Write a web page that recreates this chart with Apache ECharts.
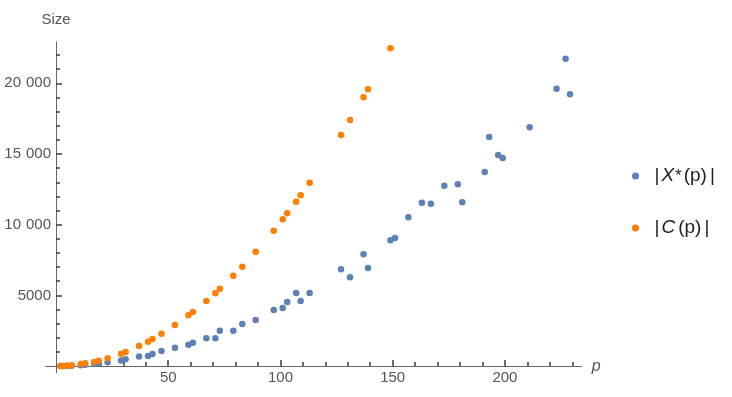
<!DOCTYPE html>
<html><head><meta charset="utf-8">
<script src="https://cdn.jsdelivr.net/npm/echarts@6/dist/echarts.min.js"></script>
<style>html,body{margin:0;padding:0;background:#fff}#c{width:732px;height:397px}</style>
</head><body><div id="c"></div>
<script>
// Primes p (x values)
const primes = [2,3,5,7,11,13,17,19,23,29,31,37,41,43,47,53,59,61,67,71,73,79,83,89,97,101,103,107,109,113,127,131,137,139,149,151,157,163,167,173,179,181,191,193,197,199,211,223,227,229];
// |X*(p)| (blue)
const xStarSizes = [2,5,15,25,50,90,141,191,270,390,485,680,708,849,1061,1295,1507,1649,1960,1960,2498,2498,2970,3250,3960,4100,4530,5165,4600,5165,6842,6276,7903,6934,8894,9057,10521,11555,11484,12757,12856,11583,13727,16203,14930,14717,16890,19620,21744,19224];
// |C(p)| (orange), visible for the first primes only
const cSizes = [4,10,30,55,142,200,283,375,545,870,1000,1420,1719,1910,2285,2901,3587,3821,4599,5144,5470,6389,7026,8088,9573,10380,10804,11625,12078,12970,16345,17406,19012,19578,22480,22975];
// ticks
const xMajorTicks = [50,100,150,200];
const xMinorTicks = [10,20,30,40,60,70,80,90,110,120,130,140,160,170,180,190,210,220,230];
const yMajorTicks = [5000,10000,15000,20000];
const yMinorTicks = [1000,2000,3000,4000,6000,7000,8000,9000,11000,12000,13000,14000,16000,17000,18000,19000,21000,22000];

const FONT = '"Liberation Sans", Arial, sans-serif';
const AX = '#666', LBL = '#555', TK = '#3a3a3a', TKW = 1.5;
const X_MIN = -4.45, X_MAX = 234.2, Y_MIN = -470, Y_MAX = 22925;

function fmtY(v){ const s = String(v); return v >= 10000 ? s.slice(0, s.length-3) + '\u2004' + s.slice(-3) : s; }

const LEG = {fontFamily: FONT, fontSize: 19, color: '#222', lineHeight: 22};
const chart = echarts.init(document.getElementById('c'), null, {renderer:'canvas'});
chart.setOption({
  animation: false,
  backgroundColor: '#fff',
  grid: {left: 46, top: 42, width: 535.7, height: 330.7, containLabel: false, outerBoundsMode: 'none'},
  legend: {
    orient: 'vertical', left: 627, top: 160, itemGap: 30,
    icon: 'circle', itemWidth: 28, itemHeight: 7,
    data: ['|X*(p)|', '|C(p)|'],
    formatter: function(name){
      return name === '|X*(p)|' ? '{a||}{i|X}{s|*}{b|(p)}{c||}' : '{a||}{i|C}{b|(p)}{c||}';
    },
    textStyle: {
      color: '#222', fontFamily: FONT, fontSize: 19, lineHeight: 22,
      rich: {
        a: Object.assign({}, LEG, {padding: [0, 2, 0, 0]}),
        i: Object.assign({}, LEG, {fontStyle: 'italic', padding: [0, 1, 0, 0]}),
        s: Object.assign({}, LEG, {fontSize: 17}),
        b: Object.assign({}, LEG, {padding: [0, 0, 0, 2]}),
        c: Object.assign({}, LEG, {padding: [0, 0, 0, 3]})
      }
    }
  },
  xAxis: [
    {
      type: 'value', min: X_MIN, max: X_MAX,
      axisLine: {show: true, onZero: true, onZeroAxisIndex: 0, lineStyle: {color: AX}},
      axisTick: {show: true, inside: true, length: 6, customValues: xMajorTicks, lineStyle: {color: TK, width: TKW}},
      axisLabel: {show: true, customValues: xMajorTicks, color: LBL, fontSize: 15, fontFamily: FONT, margin: -2},
      splitLine: {show: false},
      name: 'p', nameLocation: 'end', nameGap: 10,
      nameTextStyle: {fontStyle: 'italic', fontSize: 16, color: LBL, fontFamily: FONT}
    },
    {
      type: 'value', min: X_MIN, max: X_MAX, position: 'bottom',
      axisLine: {show: true, onZero: true, onZeroAxisIndex: 0, lineStyle: {color: AX}},
      axisTick: {show: true, inside: true, length: 4, customValues: xMinorTicks, lineStyle: {color: TK, width: TKW}},
      axisLabel: {show: false},
      splitLine: {show: false}
    }
  ],
  yAxis: [
    {
      type: 'value', min: Y_MIN, max: Y_MAX,
      axisLine: {show: true, onZero: true, onZeroAxisIndex: 0, lineStyle: {color: AX}},
      axisTick: {show: true, inside: true, length: 6, customValues: yMajorTicks, lineStyle: {color: TK, width: TKW}},
      axisLabel: {show: true, customValues: yMajorTicks, color: LBL, fontSize: 15, fontFamily: FONT, margin: -5, formatter: fmtY},
      splitLine: {show: false},
      name: 'Size', nameLocation: 'end', nameGap: 15,
      nameTextStyle: {fontSize: 15, color: LBL, fontFamily: FONT, align: 'center'}
    },
    {
      type: 'value', min: Y_MIN, max: Y_MAX, position: 'left',
      axisLine: {show: true, onZero: true, onZeroAxisIndex: 0, lineStyle: {color: AX}},
      axisTick: {show: true, inside: true, length: 4, customValues: yMinorTicks, lineStyle: {color: TK, width: TKW}},
      axisLabel: {show: false},
      splitLine: {show: false}
    }
  ],
  series: [
    {
      type: 'scatter', name: '|X*(p)|', xAxisIndex: 0, yAxisIndex: 0, clip: true,
      symbolSize: 6.5, itemStyle: {color: '#5E81B5', opacity: 1},
      data: primes.map((p, i) => [p, xStarSizes[i]])
    },
    {
      type: 'scatter', name: '|C(p)|', xAxisIndex: 0, yAxisIndex: 0, clip: true,
      symbolSize: 6.5, itemStyle: {color: '#FF7F00', opacity: 1},
      data: cSizes.map((v, i) => [primes[i], v])
    }
  ]
});
</script></body></html>
